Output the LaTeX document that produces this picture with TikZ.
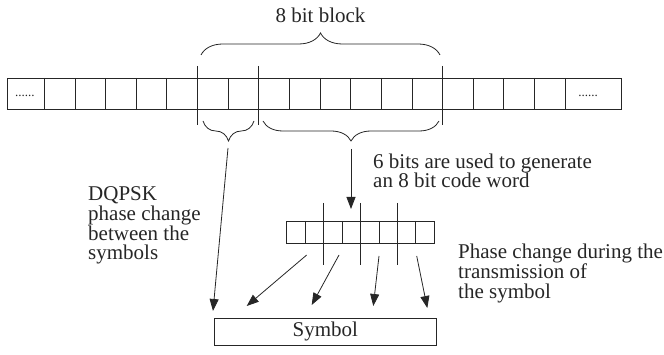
\documentclass[tikz,border=0pt]{standalone}
\usepackage{fontspec}
\setmainfont{Liberation Serif}
\usetikzlibrary{arrows.meta,decorations.pathreplacing}
\tikzset{
  ln/.style={line width=0.8pt, draw=black!85},
  arr/.style={ln, -{Triangle[length=12pt,width=9pt]}},
  brc/.style={ln, decorate, decoration={brace, amplitude=#1}},
  txt/.style={anchor=base west, inner sep=0pt, font=\fontsize{21}{21}\selectfont, text=black!85},
  dots/.style={inner sep=0pt, font=\fontsize{13}{13}\selectfont, text=black!85}
}
\begin{document}
\begin{tikzpicture}[x=1pt,y=-1pt]
\useasboundingbox (0,0) rectangle (664,355);
% main row
\draw[ln] (7,78) rectangle (621,109);
\foreach \x in {44.3,75,105.7,136,166.7,228,289.3,320,350.7,381.3,412,473.3,503.7,534.3,565.3}
  \draw[ln] (\x,78) -- (\x,109);
\foreach \x in {197.3,258.7,442.7}
  \draw[ln] (\x,66) -- (\x,125);
\node[dots, anchor=base] (d1) at (25,97) {......};
\node[dots, anchor=base] (d2) at (588,97) {......};
% top brace
\coordinate (tb1) at (201,55);
\coordinate (tb2) at (440,55);
\draw[brc=22pt] (tb1) -- (tb2);
\node[txt, anchor=base] (lbl8) at (320.5,23) {8 bit block};
% lower braces
\coordinate (sb1) at (203,121);
\coordinate (sb2) at (254,121);
\coordinate (bb1) at (263,121);
\coordinate (bb2) at (439,121);
\draw[brc=20pt] (sb2) -- (sb1);
\draw[brc=20pt] (bb2) -- (bb1);
% arrow from big brace
\coordinate (bt) at (351,149);
\coordinate (bh) at (351,209);
\draw[arr] (bt) -- (bh);
\node[txt] (six1) at (373,168.5) {6 bits are used to generate};
\node[txt] (six2) at (373,188) {an 8 bit code word};
% code word row
\draw[ln] (286.7,221) rectangle (434.3,243);
\foreach \x in {305.1,342.0,378.9,415.8}
  \draw[ln] (\x,221) -- (\x,243);
\foreach \x in {323.6,360.5,397.4}
  \draw[ln] (\x,203) -- (\x,265);
% symbol box
\node[draw, ln, inner sep=0pt, minimum width=222.7pt, minimum height=27pt,
      font=\fontsize{21}{21}\selectfont, text=black!85] (sym) at (325.3,331.5) {Symbol};
% DQPSK arrow
\coordinate (st) at (228,148);
\coordinate (sh) at (213,311);
\draw[arr] (st) -- (sh);
\node[txt] (q1) at (88,201) {DQPSK};
\node[txt] (q2) at (88,221) {phase change};
\node[txt] (q3) at (88,241) {between the};
\node[txt] (q4) at (88,260) {symbols};
% code word arrows
\coordinate (a1s) at (306.7,255); \coordinate (a1e) at (246.7,306);
\coordinate (a2s) at (339,255);   \coordinate (a2e) at (311.7,305);
\coordinate (a3s) at (379,256);   \coordinate (a3e) at (373.3,306);
\coordinate (a4s) at (416.7,256); \coordinate (a4e) at (427.3,308);
\draw[arr] (a1s) -- (a1e);
\draw[arr] (a2s) -- (a2e);
\draw[arr] (a3s) -- (a3e);
\draw[arr] (a4s) -- (a4e);
\node[txt] (p1) at (458,259) {Phase change during the};
\node[txt] (p2) at (458,279) {transmission of};
\node[txt] (p3) at (458,299) {the symbol};
\end{tikzpicture}
\end{document}
